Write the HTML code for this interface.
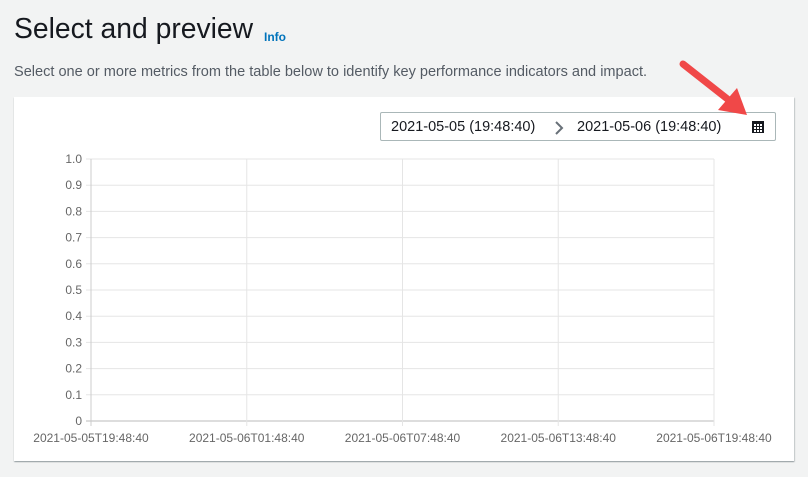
<!DOCTYPE html>
<html><head><meta charset="utf-8"><style>
body{margin:0;width:808px;height:477px;background:#f2f3f3;font-family:"Liberation Sans",sans-serif;position:relative;overflow:hidden}
.abs{position:absolute}
</style></head><body>
<div class="abs" style="left:14px;top:12px;font-size:28.3px;color:#16191f;">Select and preview</div>
<div class="abs" style="left:264px;top:30px;font-size:12px;font-weight:bold;color:#0073bb;">Info</div>
<div class="abs" style="left:14px;top:64px;font-size:14.55px;color:#545b64;">Select one or more metrics from the table below to identify key performance indicators and impact.</div>
<div class="abs" style="left:14px;top:97px;width:780px;height:364px;background:#fff;box-shadow:0 1px 1px rgba(0,28,36,.3),1px 1px 1px rgba(0,28,36,.15);"></div>
<div class="abs" style="left:380px;top:112px;width:394px;height:27px;border:1px solid #aab7b8;border-radius:2px;background:#fff;font-size:14.5px;color:#16191f;">
<span class="abs" style="left:10px;top:6px;">2021-05-05 (19:48:40)</span>
<svg class="abs" style="left:172px;top:7px" width="12" height="16"><polyline points="3,2 9,8 3,14" fill="none" stroke="#687078" stroke-width="2"/></svg>
<span class="abs" style="left:196px;top:6px;">2021-05-06 (19:48:40)</span>
<svg class="abs" style="left:370px;top:7px" width="14" height="14"><rect x="1" y="1" width="12" height="12" fill="#16191f"/><g fill="#fff"><rect x="3" y="4" width="2" height="2"/><rect x="6" y="4" width="2" height="2"/><rect x="9" y="4" width="2" height="2"/><rect x="3" y="7" width="2" height="2"/><rect x="6" y="7" width="2" height="2"/><rect x="9" y="7" width="2" height="2"/><rect x="3" y="10" width="2" height="2"/><rect x="6" y="10" width="2" height="2"/><rect x="9" y="10" width="2" height="2"/></g></svg>
</div>
<svg class="abs" style="left:0;top:0" width="808" height="477"><line x1="683" y1="64" x2="730" y2="101" stroke="#f04848" stroke-width="7" stroke-linecap="round"/><polygon points="747,115 718,110 737,88" fill="#f04848"/></svg>
<svg id="chart" class="abs" style="left:0;top:0" width="808" height="477"></svg>
<script>
const yTicks=[0,0.1,0.2,0.3,0.4,0.5,0.6,0.7,0.8,0.9,1.0];
const yLabels=["0","0.1","0.2","0.3","0.4","0.5","0.6","0.7","0.8","0.9","1.0"];
const xTicks=[0,6,12,18,24];
const xLabels=["2021-05-05T19:48:40","2021-05-06T01:48:40","2021-05-06T07:48:40","2021-05-06T13:48:40","2021-05-06T19:48:40"];
const L=91,R=714,T=159,B=421;
const xs=v=>L+(v-0)/(24-0)*(R-L);
const ys=v=>B-(v-0)/(1-0)*(B-T);
const svg=document.getElementById('chart');const ns='http://www.w3.org/2000/svg';
function mk(t,a){const e=document.createElementNS(ns,t);for(const k in a)e.setAttribute(k,a[k]);svg.appendChild(e);return e;}
yTicks.forEach((v,i)=>{const y=ys(v);
const g=mk('line',{x1:L-5,x2:R,y1:y,y2:y,stroke:v===0?'#bbb':'#e5e5e5'});


const t=mk('text',{x:L-9,y:y+4,'text-anchor':'end','font-size':12,fill:'#666','font-family':'Liberation Sans'});t.textContent=yLabels[i];

});
xTicks.forEach((v,i)=>{const x=xs(v);
const g=mk('line',{x1:x,x2:x,y1:T,y2:B+5,stroke:i===0?'#ccc':'#e5e5e5'});


const t=mk('text',{x:x,y:442,'text-anchor':'middle','font-size':12,fill:'#666','font-family':'Liberation Sans'});t.textContent=xLabels[i];

});
</script>
</body></html>
